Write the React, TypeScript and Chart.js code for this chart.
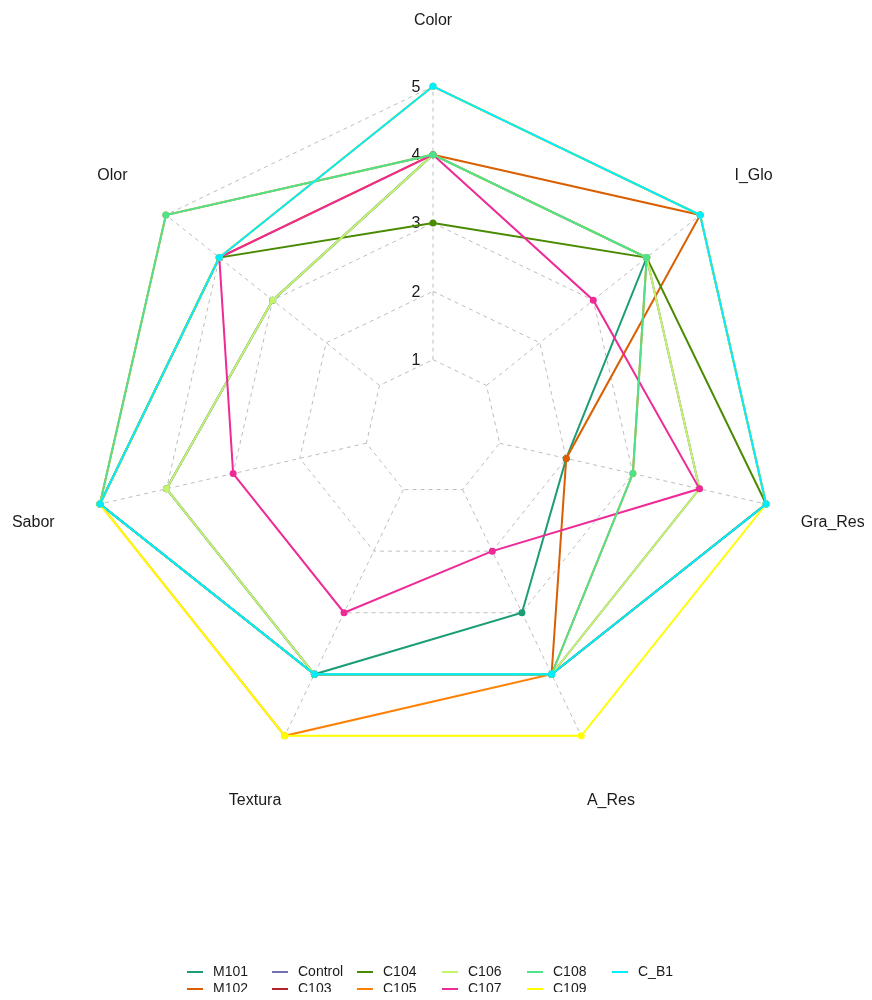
import React, { useEffect, useRef } from 'react';
import { Chart, registerables } from 'chart.js';

Chart.register(...registerables);

// ---------- data ----------
const axisLabels = ['Color', 'I_Glo', 'Gra_Res', 'A_Res', 'Textura', 'Sabor', 'Olor'];
const tickValues = [1, 2, 3, 4, 5];
const tickLabels = ['1', '2', '3', '4', '5'];

const seriesNames = ['M101', 'M102', 'Control', 'C103', 'C104', 'C105', 'C106', 'C107', 'C108', 'C109', 'C_B1'];

const M101 = [4, 4, 2, 3, 4, 4, 3];
const M102 = [4, 5, 2, 4, 4, 5, 4];
const Control = [4, 4, 4, 4, 4, 4, 3];
const C103 = [5, 5, 5, 4, 4, 5, 4];
const C104 = [3, 4, 5, 4, 4, 5, 4];
const C105 = [4, 4, 3, 4, 5, 5, 5];
const C106 = [4, 4, 4, 4, 4, 4, 3];
const C107 = [4, 3, 4, 2, 3, 3, 4];
const C108 = [4, 4, 3, 4, 4, 5, 5];
const C109 = [5, 5, 5, 5, 5, 5, 4];
const C_B1 = [5, 5, 5, 4, 4, 5, 4];

const seriesValues = [M101, M102, Control, C103, C104, C105, C106, C107, C108, C109, C_B1];

const seriesColors = [
  '#1b9e77', '#d95f02', '#7570b3', '#b2222e', '#4a8a00', '#ff7f00',
  '#c4f46a', '#ee2a96', '#4de38a', '#ffff00', '#00eeff',
];

// ---------- styling ----------
const FONT = '"Liberation Sans", Arial, Helvetica, sans-serif';
const GRID_COLOR = '#bdbdbd';
const LABEL_RING = 6;

const radarDecor = {
  id: 'radarDecor',
  beforeDatasetsDraw(chart: any) {
    const s = chart.scales.r;
    const ctx = chart.ctx;
    ctx.save();
    ctx.strokeStyle = GRID_COLOR;
    ctx.lineWidth = 1;
    ctx.setLineDash([4, 4]);
    const lo = tickValues[0];
    const hi = tickValues[tickValues.length - 1];
    axisLabels.forEach((_, i) => {
      const a = s.getPointPositionForValue(i, lo);
      const b = s.getPointPositionForValue(i, hi);
      ctx.beginPath();
      ctx.moveTo(a.x, a.y);
      ctx.lineTo(b.x, b.y);
      ctx.stroke();
    });
    ctx.setLineDash([]);
    ctx.fillStyle = '#1a1a1a';
    ctx.font = `16px ${FONT}`;
    ctx.textAlign = 'center';
    ctx.textBaseline = 'middle';
    tickValues.forEach((v, k) => {
      const p = s.getPointPositionForValue(0, v);
      ctx.fillText(tickLabels[k], p.x - 17, p.y + 1);
    });
    axisLabels.forEach((l, i) => {
      const p = s.getPointPositionForValue(i, LABEL_RING);
      ctx.fillText(l, p.x, p.y + 3);
    });
    ctx.restore();
  },
  afterDraw(chart: any) {
    const ctx = chart.ctx;
    ctx.save();
    ctx.font = `14px ${FONT}`;
    ctx.textAlign = 'left';
    ctx.textBaseline = 'middle';
    const x0 = 179;
    const colW = 85;
    const rowY = [964, 981];
    seriesNames.forEach((name, k) => {
      const col = Math.floor(k / 2);
      const row = k % 2;
      const x = x0 + col * colW;
      const y = rowY[row];
      ctx.strokeStyle = seriesColors[k];
      ctx.lineWidth = 2;
      ctx.beginPath();
      ctx.moveTo(x, y);
      ctx.lineTo(x + 16, y);
      ctx.stroke();
      ctx.fillStyle = '#1a1a1a';
      ctx.fillText(name, x + 26, y);
    });
    ctx.restore();
  },
};

export default function App() {
  const ref = useRef<HTMLCanvasElement | null>(null);

  useEffect(() => {
    if (!ref.current) return;
    const datasets = seriesNames.map((name, i) => ({
      label: name,
      data: seriesValues[i],
      borderColor: seriesColors[i],
      backgroundColor: seriesColors[i],
      pointBackgroundColor: seriesColors[i],
      pointBorderColor: seriesColors[i],
      pointBorderWidth: 0,
      pointRadius: 3.5,
      borderWidth: 2,
      fill: false,
      tension: 0,
      order: seriesNames.length - i,
    }));
    const chart = new Chart(ref.current, {
      type: 'radar',
      data: { labels: axisLabels, datasets },
      options: {
        animation: false,
        responsive: true,
        maintainAspectRatio: false,
        layout: { padding: { top: 10, bottom: 154, left: 0, right: 6 } },
        plugins: { legend: { display: false }, tooltip: { enabled: false } },
        scales: {
          r: {
            min: 0,
            max: LABEL_RING,
            ticks: { display: false, stepSize: 1 },
            pointLabels: { display: false },
            angleLines: { display: false },
            grid: {
              color: (c: any) => (c.tick && c.tick.value > 0 && c.tick.value <= 5 ? GRID_COLOR : 'rgba(0,0,0,0)'),
              lineWidth: 1,
            },
            border: { dash: [4, 4] },
          },
        },
      },
      plugins: [radarDecor],
    });
    return () => chart.destroy();
  }, []);

  return (
    <div style={{ position: 'relative', width: 856, height: 984 }}>
      <canvas ref={ref} />
    </div>
  );
}
